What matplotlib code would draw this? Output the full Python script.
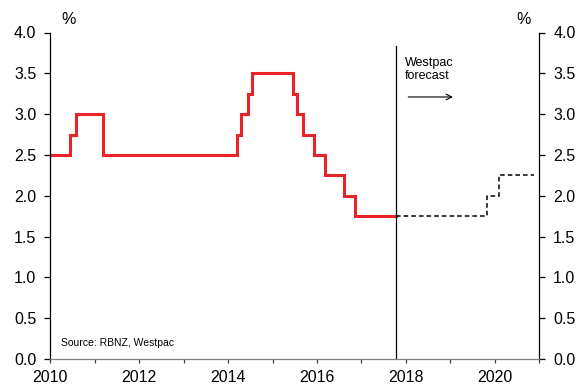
import matplotlib
matplotlib.use("Agg")
import matplotlib.pyplot as plt
import numpy as np

plt.rcParams['font.family'] = ['Liberation Sans', 'DejaVu Sans']

# Actual OCR (step changes, decimal years)
hist_x = [2010.0, 2010.44, 2010.58, 2011.19, 2014.20, 2014.30, 2014.44, 2014.54,
          2015.45, 2015.55, 2015.69, 2015.93, 2016.18, 2016.60, 2016.85, 2017.78]
hist_y = [2.50, 2.75, 3.00, 2.50, 2.75, 3.00, 3.25, 3.50,
          3.25, 3.00, 2.75, 2.50, 2.25, 2.00, 1.75, 1.75]

# Westpac forecast
fc_x = [2017.78, 2019.83, 2020.09, 2020.88]
fc_y = [1.75, 2.00, 2.25, 2.25]

forecast_start = 2017.78
xticks_major = [2010, 2012, 2014, 2016, 2018, 2020]
yticks = [0.0, 0.5, 1.0, 1.5, 2.0, 2.5, 3.0, 3.5, 4.0]

fig = plt.figure(figsize=(5.76, 3.85), dpi=100)
ax = fig.add_axes([50.3/576, 1-359/385, (539.3-50.3)/576, (359-32.5)/385])

ax.step(hist_x, hist_y, where='post', color='#E8232A', lw=2.2, solid_joinstyle='miter')
ax.step(fc_x, fc_y, where='post', color='black', lw=1.1, ls=(0, (3, 2)))
ax.plot([forecast_start, forecast_start], [0, 3.84], color='black', lw=0.9)

ax.set_xlim(2010, 2021)
ax.set_ylim(0, 4.0)
ax.set_xticks(xticks_major)
ax.set_xticks(np.arange(2010, 2022), minor=True)
ax.set_xticklabels([str(t) for t in xticks_major])
ax.set_yticks(yticks)
ax.set_yticklabels([f"{v:.1f}" for v in yticks])

ax.spines['top'].set_visible(False)
for s in ['left', 'right', 'bottom']:
    ax.spines[s].set_color('black')
    ax.spines[s].set_linewidth(0.9)
ax.spines['bottom'].set_color('#808080')

ax.tick_params(axis='x', which='both', direction='out', length=3, width=0.9,
               colors='black', labelsize=11.5, pad=5)
ax.tick_params(axis='x', which='both', color='#404040')
ax.tick_params(axis='y', which='both', direction='out', length=4, width=0.9,
               labelsize=11.5, left=True, right=True, labelleft=True, labelright=True, pad=6)

fig.text(61/576, 1-19/385, '%', fontsize=11.5, ha='left', va='center')
fig.text(531/576, 1-19/385, '%', fontsize=11.5, ha='right', va='center')

ax.text(2017.98, 3.70, 'Westpac\nforecast', fontsize=9, ha='left', va='top', linespacing=1.15)
ax.annotate('', xy=(2019.12, 3.21), xytext=(2017.99, 3.21),
            arrowprops=dict(arrowstyle='->', color='black', lw=0.8))
ax.text(2010.25, 0.19, 'Source: RBNZ, Westpac', fontsize=7.5, ha='left', va='center')

fig.savefig('out.png', dpi=100)
